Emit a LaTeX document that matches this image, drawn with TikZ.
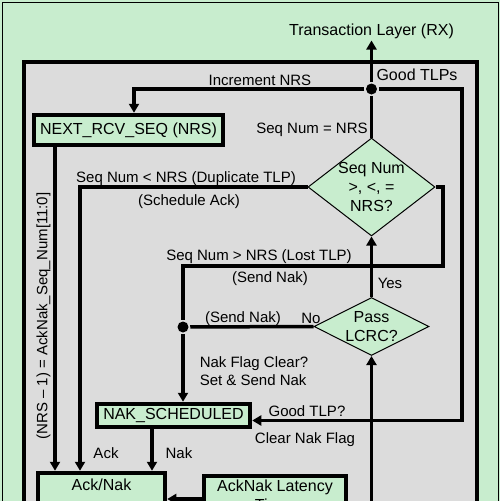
\documentclass[tikz,border=0pt]{standalone}
\usepackage{fontspec}
\setmainfont{Liberation Sans}
\usepackage{tikz}
\usetikzlibrary{arrows.meta}
\usetikzlibrary{shapes}
\definecolor{mint}{RGB}{200,237,206}
\definecolor{panel}{RGB}{220,220,220}
\tikzset{>={Triangle[length=9pt,width=10pt]}}

\begin{document}
\begin{tikzpicture}[->,x=1pt,y=-1pt,line width=3.5pt,font=\fontsize{15}{18}\selectfont]
  \tikzstyle{block}=[draw=black,fill=mint,line width=4pt,inner sep=0pt,font=\fontsize{16}{19}\selectfont]
  \tikzstyle{decision}=[diamond,draw=black,fill=mint,line width=1pt,align=center,font=\fontsize{16}{19}\selectfont]
  \tikzstyle{dot}=[circle,fill=black,inner sep=0pt,minimum size=11pt]
  \tikzstyle{lbl}=[inner sep=0pt,text height=10.7pt,text depth=0pt]
  \tikzstyle{biglbl}=[inner sep=0pt,text height=11.5pt,text depth=0pt,font=\fontsize{16}{19}\selectfont]

  % frame and panel
  \useasboundingbox (0,0) rectangle (500,501);
  \clip (0,0) rectangle (500,501);
  \fill[mint] (0,0) rectangle (500,501);
  \draw[-,line width=1pt] (2.5,2) rectangle (498,620);
  \filldraw[-,fill=panel,line width=4pt] (23.5,62) rectangle (477,620);

  % blocks
  \node[block,minimum width=189.5pt,minimum height=30.5pt] (nrs) at (128.5,130) {NEXT\_RCV\_SEQ (NRS)};
  \node[decision,aspect=1.3,inner sep=-2pt,minimum width=127pt,minimum height=98pt] (seq) at (371.5,187) {Seq Num\\>, <, =\\NRS?};
  \node[decision,aspect=2,inner sep=0pt,minimum width=115pt,minimum height=58pt] (lcrc) at (371.5,326.5) {Pass\\LCRC?};
  \node[block,minimum width=153.5pt,minimum height=23.5pt] (naks) at (173.5,415.5) {NAK\_SCHEDULED};
  \node[block,anchor=north,minimum width=127.5pt,text height=18pt,text depth=40pt] (gen) at (101.5,470.75) {Ack/Nak};
  \node[block,anchor=north,minimum width=142.5pt,inner ysep=4pt,align=center] (lat) at (275,473.75) {AckNak Latency\\Timer};

  \node[dot] (dtop) at (371.5,89) {};
  \node[dot] (dnak) at (183,327) {};
  \coordinate (nin) at (134,89);
  \coordinate (rt) at (462,89);
  \coordinate (rb) at (462,420.5);
  \coordinate (r2) at (443,266);
  \coordinate (bin) at (371.5,520);

  % labels
  \node[biglbl,inner ysep=3pt] (rx) at (371.5,30) {Transaction Layer (RX)};
  \node[lbl] (inc) at (260,80) {Increment NRS};
  \node[biglbl] (good) at (417,75) {Good TLPs};
  \node[lbl] (eq) at (312,128) {Seq Num = NRS};
  \node[lbl] (dup) at (186,177) {Seq Num < NRS (Duplicate TLP)};
  \node[lbl] (sack) at (189,200) {(Schedule Ack)};
  \node[lbl] (lost) at (259,255) {Seq Num > NRS (Lost TLP)};
  \node[lbl] (snak) at (270,277) {(Send Nak)};
  \node[lbl] (yes) at (390,283) {Yes};
  \node[lbl] (snak2) at (243,317) {(Send Nak)};
  \node[lbl] (no) at (311,318) {No};
  \node[align=left,anchor=west,inner sep=0pt] (flag) at (198,371) {Nak Flag Clear?\\Set \& Send Nak};
  \node[lbl] (gtlp) at (307,411) {Good TLP?};
  \node[lbl] (clr) at (305,438) {Clear Nak Flag};
  \node[lbl] (ack) at (106,453) {Ack};
  \node[lbl] (nak) at (179,453) {Nak};
  \node[lbl,rotate=90] (ackseq) at (42,316) {(NRS -- 1) = AckNak\_Seq\_Num[11:0]};

  % connectors
  \draw (dtop) -- (rx.south);
  \draw[-] (seq.north) -- (dtop);
  \draw (dtop) -- (nin) -- (nin |- nrs.north);
  \draw (dtop) -- (rt) -- (rb) -- (rb -| naks.east);
  \draw[-] (seq.east) -| (r2) -- (r2 -| dnak) -- (dnak);
  \draw (seq.west) -| (80,0 |- gen.north);
  \draw (55,0 |- nrs.south) -- (55,0 |- gen.north);
  \draw (152,0 |- naks.south) -- (152,0 |- gen.north);
  \draw (lcrc.north) -- (seq.south);
  \draw[-] (lcrc.west) -- (dnak);
  \draw (dnak) -- (dnak |- naks.north);
  \draw (bin) -- (lcrc.south);
  \draw (lat.west |- 0,499) -- (gen.east |- 0,499);
\end{tikzpicture}
\end{document}
